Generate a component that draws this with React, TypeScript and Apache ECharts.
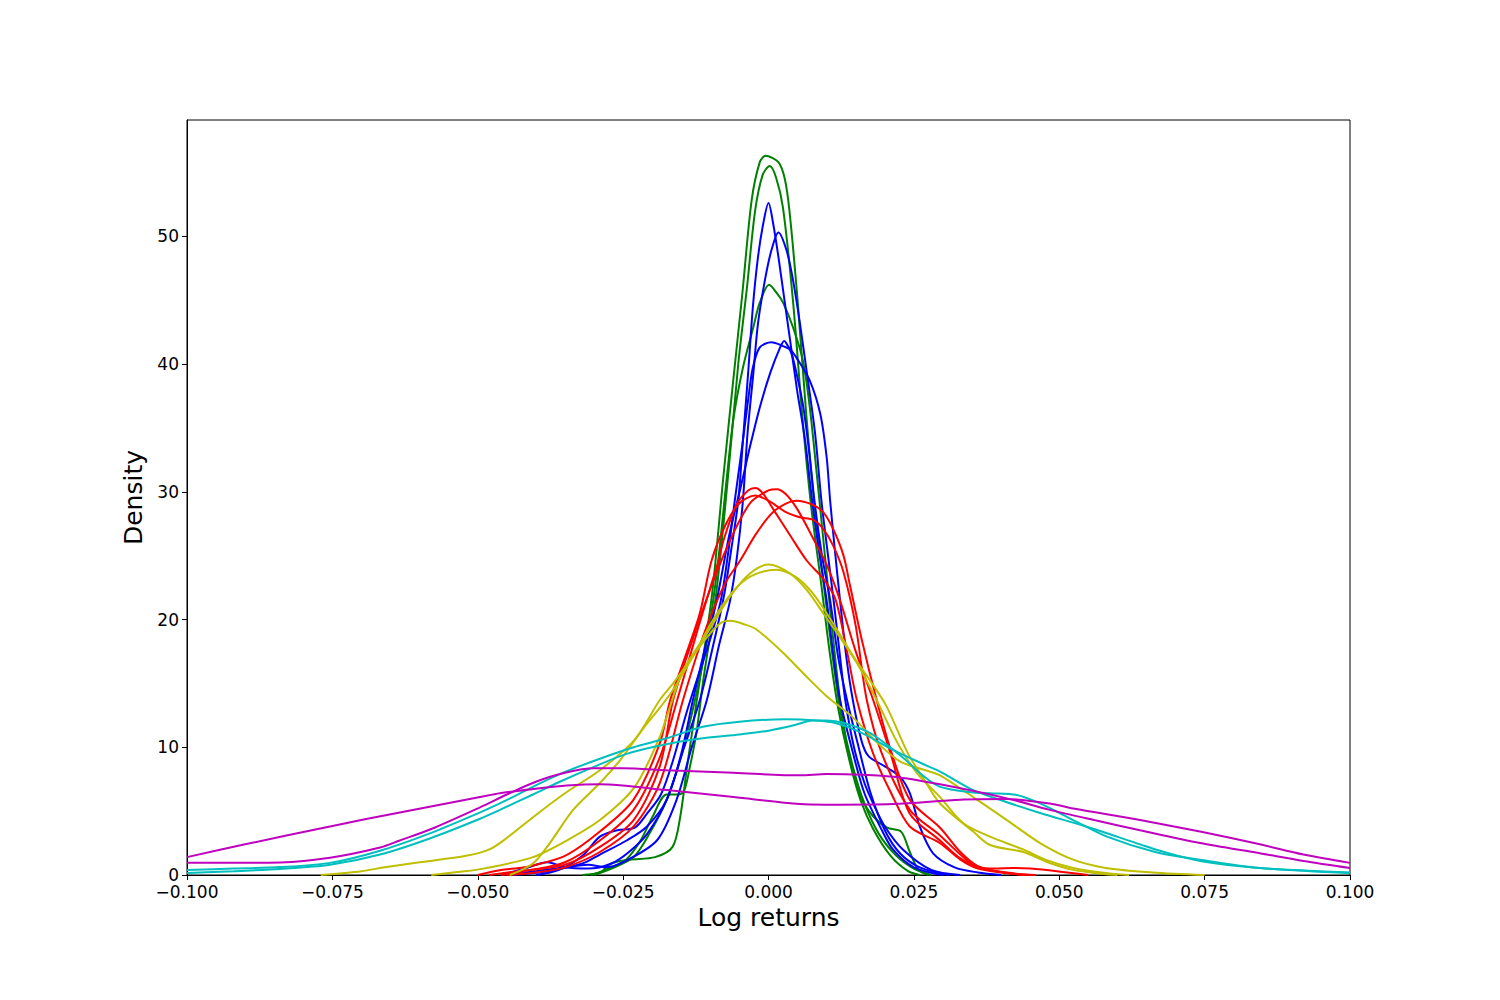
import React, { useEffect, useRef } from 'react';
import * as echarts from 'echarts';

type P = [number, number];

const xTicks = [-0.1, -0.075, -0.05, -0.025, 0, 0.025, 0.05, 0.075, 0.1];
const yTicks = [0, 10, 20, 30, 40, 50];

const greenA: P[] = [[-0.032,0],[-0.029,0.2],[-0.027,0.9],[-0.024,1.2],[-0.0195,1.4],[-0.0165,2.2],[-0.0152,4.5],[-0.014,8.5],[-0.013,11.6],[-0.0118,15.3],[-0.0097,22],[-0.0078,31],[-0.006,39],[-0.0045,45.5],[-0.0029,52.8],[-0.0015,55.8],[-0.0005,56.3],[0.0017,55.8],[0.0028,54.5],[0.0036,52],[0.005,45],[0.0065,36],[0.008,28.5],[0.0097,22],[0.0112,16.5],[0.0125,12.5],[0.0145,8.5],[0.0165,5.6],[0.019,3.2],[0.022,1.5],[0.025,0.5],[0.028,0]];
const greenB: P[] = [[-0.0305,0],[-0.0275,0.5],[-0.0245,1.2],[-0.022,2.7],[-0.02,4.5],[-0.0175,6.3],[-0.0155,6.3],[-0.0145,6.6],[-0.0135,8.5],[-0.0124,11.1],[-0.0112,15.3],[-0.009,22],[-0.007,31],[-0.0052,40],[-0.0037,46],[-0.0023,52],[-0.001,54.8],[0.0002,55.5],[0.0013,54.6],[0.0025,52.2],[0.0042,45],[0.0058,36],[0.0073,29],[0.009,23],[0.0105,17.5],[0.012,13],[0.014,8.8],[0.0158,5.9],[0.018,3.6],[0.021,1.5],[0.024,0.3],[0.026,0]];
const greenC: P[] = [[-0.03,0],[-0.027,0.5],[-0.0232,1.4],[-0.0204,3.3],[-0.0175,5.9],[-0.0147,9.8],[-0.0125,14],[-0.0105,18.5],[-0.0088,24],[-0.0071,31.4],[-0.006,35.8],[-0.0044,39.7],[-0.0026,42.9],[-0.0015,44.8],[0.0001,46.2],[0.0015,45.5],[0.0025,44.8],[0.0042,42.9],[0.0059,40.3],[0.0071,36.6],[0.0083,31.4],[0.0097,25],[0.011,19],[0.0125,13],[0.0142,8.6],[0.016,6.0],[0.018,4.6],[0.0204,3.7],[0.0228,3.4],[0.0243,1.8],[0.0258,0.4],[0.0275,0]];

const blueA: P[] = [[-0.046,0],[-0.042,0.5],[-0.038,1.0],[-0.035,0.6],[-0.031,0.5],[-0.027,0.9],[-0.024,1.8],[-0.0209,3.2],[-0.0175,5.9],[-0.0145,10],[-0.0118,13.7],[-0.0095,18],[-0.0076,22],[-0.0064,25.5],[-0.0052,29.3],[-0.0044,34],[-0.0035,39.3],[-0.0027,44.4],[-0.0018,48.4],[-0.0009,51],[0,52.6],[0.0008,51],[0.0017,48.4],[0.0025,45.8],[0.0037,41.9],[0.0049,38],[0.0063,34],[0.0075,29.3],[0.0088,25],[0.01,21.5],[0.0112,17],[0.0123,13.7],[0.0145,9.6],[0.0165,6.4],[0.0195,3.5],[0.0214,2],[0.025,0.6],[0.03,0]];
const blueB: P[] = [[-0.045,0],[-0.04,0.3],[-0.035,0.6],[-0.031,0.8],[-0.028,0.6],[-0.025,1.0],[-0.0192,2.7],[-0.0158,5.9],[-0.0132,10],[-0.0106,13.7],[-0.0085,18],[-0.0066,21.5],[-0.0054,25],[-0.0044,29.3],[-0.0036,34.6],[-0.0026,39.3],[-0.0018,43.2],[-0.0006,46.6],[0.0005,48.9],[0.0017,50.3],[0.0031,48.9],[0.0042,46.6],[0.0054,43.2],[0.0066,39.3],[0.008,34.6],[0.0091,29.3],[0.0101,25.5],[0.0112,21.5],[0.0122,17.5],[0.0132,13.7],[0.0147,10],[0.0165,7.2],[0.0182,5.4],[0.02,3.8],[0.0231,2],[0.028,0.4],[0.033,0]];
const blueC: P[] = [[-0.04,0],[-0.036,0.4],[-0.032,1.5],[-0.029,3.0],[-0.026,3.5],[-0.023,3.7],[-0.0209,4.8],[-0.0185,6.3],[-0.0164,9],[-0.0141,12.7],[-0.0123,15.3],[-0.01,18.5],[-0.0082,21.5],[-0.007,25],[-0.0058,29.3],[-0.0044,34],[-0.0035,37.2],[-0.0027,39.7],[-0.0015,41.3],[0.0005,41.7],[0.0025,41.4],[0.0037,41.1],[0.0048,39.3],[0.006,36.6],[0.0071,32.7],[0.0079,29.3],[0.0092,25],[0.0106,21.5],[0.012,17],[0.0135,13.7],[0.0155,10],[0.0175,6.5],[0.02,3.5],[0.0226,1.7],[0.026,0.6],[0.031,0]];
const blueD: P[] = [[-0.044,0],[-0.038,0.3],[-0.032,0.9],[-0.029,1.6],[-0.0244,2.7],[-0.0209,3.8],[-0.0175,5.9],[-0.015,9.5],[-0.013,13.7],[-0.0108,18],[-0.0089,21.5],[-0.0068,26.5],[-0.0046,30.7],[-0.0032,33.5],[-0.0015,36.6],[0.0003,39.3],[0.002,41.3],[0.0027,41.8],[0.0035,41.3],[0.0048,40.5],[0.0071,38.7],[0.0089,36.1],[0.01,32.7],[0.0106,29.3],[0.0114,25.5],[0.0123,21.5],[0.0134,17],[0.0145,13.7],[0.016,10.5],[0.0172,9.3],[0.02,8.5],[0.0226,7.7],[0.0243,6.4],[0.026,3.8],[0.0283,1.7],[0.032,0.6],[0.036,0.2],[0.04,0]];

const redA: P[] = [[-0.046,0],[-0.042,0.3],[-0.035,1.0],[-0.029,2.7],[-0.0232,5.1],[-0.0187,9.2],[-0.0157,13.7],[-0.012,19.5],[-0.01,22.5],[-0.0086,24.6],[-0.0078,26.1],[-0.0055,29],[-0.0035,30.1],[-0.0023,30.3],[-0.001,29.9],[0.001,28.5],[0.0037,26.6],[0.0066,24.6],[0.0094,23.2],[0.0115,21.6],[0.0135,17.5],[0.0152,13.7],[0.018,9.5],[0.021,6.5],[0.0243,3.8],[0.0295,2.5],[0.033,1.2],[0.036,0.5],[0.04,0.2],[0.044,0]];
const redB: P[] = [[-0.05,0],[-0.046,0.4],[-0.042,0.6],[-0.035,1.5],[-0.029,3.4],[-0.0232,5.9],[-0.0187,10.3],[-0.0169,13.7],[-0.014,17.5],[-0.0118,20.5],[-0.0098,24.6],[-0.0075,27.3],[-0.005,29.1],[-0.0023,29.7],[0,29.3],[0.003,28.4],[0.0054,28],[0.0077,27.8],[0.0094,27.1],[0.0111,25.8],[0.0129,23.7],[0.015,19.5],[0.0169,13.7],[0.0195,9.5],[0.0243,5.1],[0.0295,3.1],[0.033,1.6],[0.036,0.6],[0.039,0.5],[0.042,0.55],[0.045,0.5],[0.0496,0.3],[0.055,0]];
const redC: P[] = [[-0.048,0],[-0.043,0.3],[-0.035,0.8],[-0.029,2.2],[-0.0232,4.3],[-0.0187,8.5],[-0.0164,13.7],[-0.013,18.5],[-0.0095,23],[-0.006,26.8],[-0.003,29.2],[0,30.1],[0.0014,30.2],[0.003,29.8],[0.005,28.6],[0.0075,26.5],[0.01,24.3],[0.0123,21.5],[0.015,17.5],[0.018,13.7],[0.021,9.5],[0.0243,4.8],[0.0295,2.7],[0.033,1.3],[0.037,0.5],[0.042,0.1],[0.046,0]];
const redD: P[] = [[-0.045,0],[-0.04,0.2],[-0.035,0.6],[-0.029,1.8],[-0.0232,3.8],[-0.0187,7.2],[-0.0147,13.7],[-0.011,19],[-0.0075,22.8],[-0.0049,24.6],[-0.002,26.8],[0.001,28.5],[0.0048,29.3],[0.0075,29],[0.0094,28.4],[0.0111,27.1],[0.0129,25],[0.014,22.7],[0.016,18.5],[0.0186,13.7],[0.021,9.8],[0.0243,5.9],[0.0295,3.7],[0.033,1.8],[0.036,0.7],[0.04,0.25],[0.045,0]];

const yellowA: P[] = [[-0.058,0],[-0.053,0.25],[-0.049,0.5],[-0.0405,1.4],[-0.0347,2.7],[-0.029,4.3],[-0.023,6.9],[-0.0187,10.8],[-0.0175,12.4],[-0.0147,16],[-0.0106,18.9],[-0.0066,21.8],[-0.0032,23.6],[0,24.3],[0.0037,23.6],[0.0066,22.3],[0.0094,20.5],[0.0123,18.6],[0.0152,16.6],[0.0186,13.7],[0.022,10.5],[0.0255,8.0],[0.0295,6.1],[0.0335,4.05],[0.0381,3.0],[0.0438,2.0],[0.0476,1.2],[0.0524,0.55],[0.058,0.15],[0.062,0]];
const yellowB: P[] = [[-0.0445,0],[-0.0405,0.9],[-0.0376,2.5],[-0.0336,5.1],[-0.029,7.2],[-0.0255,9],[-0.0215,11.5],[-0.0185,13.2],[-0.0164,14.5],[-0.013,17.1],[-0.0095,20],[-0.0061,22.2],[-0.003,23.4],[0.0014,23.9],[0.0048,23.3],[0.0077,22],[0.0111,19.7],[0.0146,17.1],[0.0175,15.2],[0.0203,13.2],[0.024,9.5],[0.027,7.3],[0.0295,5.6],[0.0352,3.4],[0.0381,2.35],[0.0438,1.8],[0.048,1.0],[0.0524,0.4],[0.058,0.05],[0.06,0]];
const yellowC: P[] = [[-0.077,0],[-0.07,0.3],[-0.066,0.6],[-0.06,1.0],[-0.052,1.5],[-0.048,2.0],[-0.045,2.9],[-0.04,4.7],[-0.035,6.4],[-0.029,8.2],[-0.023,10.6],[-0.0187,13.7],[-0.0164,15],[-0.0135,16.8],[-0.0106,18.6],[-0.0083,19.7],[-0.0066,19.9],[-0.004,19.6],[-0.002,19.2],[0.0025,17.4],[0.0066,15.5],[0.01,14.0],[0.0146,12.3],[0.0186,10.4],[0.0226,8.9],[0.027,8.2],[0.0295,7.8],[0.0352,6.1],[0.041,4.3],[0.0467,2.5],[0.0524,1.2],[0.058,0.55],[0.066,0.2],[0.075,0]];

const cyanA: P[] = [[-0.1,0.4],[-0.092,0.5],[-0.084,0.62],[-0.0754,0.95],[-0.0668,1.9],[-0.058,3.3],[-0.0496,4.9],[-0.0462,5.6],[-0.0405,6.9],[-0.0359,7.9],[-0.029,9.1],[-0.0232,10.0],[-0.0175,10.7],[-0.0113,11.6],[-0.005,12.0],[0.003,12.2],[0.0082,12.1],[0.0115,11.9],[0.0157,11.2],[0.0214,9.8],[0.027,8.6],[0.0295,8.1],[0.0352,6.65],[0.041,5.7],[0.0467,4.85],[0.0553,3.7],[0.0639,2.4],[0.0673,1.9],[0.0742,1.1],[0.0845,0.55],[0.1,0.2]];
const cyanB: P[] = [[-0.1,0.15],[-0.092,0.3],[-0.084,0.47],[-0.0754,0.8],[-0.0668,1.6],[-0.058,2.9],[-0.0496,4.4],[-0.0462,5.1],[-0.0405,6.3],[-0.0359,7.3],[-0.0293,8.6],[-0.0243,9.5],[-0.018,10.2],[-0.0113,10.7],[-0.005,11.0],[0,11.3],[0.0042,11.7],[0.0076,12.1],[0.01,12.1],[0.013,11.9],[0.0175,11.1],[0.0231,9.2],[0.0265,7.8],[0.0295,6.9],[0.0352,6.45],[0.0381,6.4],[0.0427,6.26],[0.0467,5.6],[0.0524,4.3],[0.0582,3.0],[0.0665,1.8],[0.0742,1.2],[0.0845,0.55],[0.1,0.15]];

const magentaA: P[] = [[-0.1,0.96],[-0.092,0.95],[-0.084,0.98],[-0.0754,1.35],[-0.0668,2.15],[-0.0634,2.7],[-0.058,3.6],[-0.0496,5.3],[-0.045,6.3],[-0.04,7.3],[-0.035,8.0],[-0.03,8.35],[-0.025,8.35],[-0.0175,8.2],[-0.006,8.0],[0.0054,7.8],[0.01,7.9],[0.0214,7.7],[0.0295,7.1],[0.041,6.0],[0.0484,5.1],[0.056,4.3],[0.0639,3.5],[0.0742,2.5],[0.0845,1.7],[0.092,1.1],[0.1,0.55]];
const magentaB: P[] = [[-0.1,1.4],[-0.09,2.4],[-0.0754,3.8],[-0.0634,4.9],[-0.0496,6.1],[-0.0462,6.4],[-0.04,6.75],[-0.0347,7.0],[-0.029,7.1],[-0.0175,6.65],[-0.006,6.1],[0.0054,5.55],[0.01,5.5],[0.0214,5.55],[0.033,5.9],[0.041,5.95],[0.0484,5.6],[0.0524,5.2],[0.0639,4.3],[0.0742,3.4],[0.0845,2.4],[0.092,1.6],[0.1,0.95]];

const curves: { data: P[]; color: string }[] = [
  { data: greenA, color: '#008000' },
  { data: greenB, color: '#008000' },
  { data: greenC, color: '#008000' },
  { data: blueA, color: '#0000ff' },
  { data: blueB, color: '#0000ff' },
  { data: blueC, color: '#0000ff' },
  { data: blueD, color: '#0000ff' },
  { data: redA, color: '#ff0000' },
  { data: redB, color: '#ff0000' },
  { data: redC, color: '#ff0000' },
  { data: redD, color: '#ff0000' },
  { data: yellowA, color: '#bfbf00' },
  { data: yellowB, color: '#bfbf00' },
  { data: yellowC, color: '#bfbf00' },
  { data: cyanA, color: '#00bfbf' },
  { data: cyanB, color: '#00bfbf' },
  { data: magentaA, color: '#bf00bf' },
  { data: magentaB, color: '#bf00bf' },
];

const fmtX = (v: number) => {
  const s = Math.abs(v).toFixed(3);
  return v < -1e-9 ? '\u2212' + s : s;
};

export default function App() {
  const ref = useRef<HTMLDivElement>(null);
  useEffect(() => {
    if (!ref.current) return;
    const chart = echarts.init(ref.current, null, { renderer: 'svg' });
    const font = 'DejaVu Sans';
    chart.setOption({
      animation: false,
      backgroundColor: '#ffffff',
      grid: {
        left: 187, right: 150, top: 120, bottom: 125,
        show: true, borderColor: '#000', borderWidth: 1, backgroundColor: 'transparent',
      },
      xAxis: {
        type: 'value', min: -0.1, max: 0.1, interval: 0.025,
        name: 'Log returns', nameLocation: 'middle', nameGap: 29,
        nameTextStyle: { fontSize: 25, color: '#000', fontFamily: font },
        axisLine: { show: true, onZero: false, lineStyle: { color: '#000', width: 1 } },
        axisTick: { show: true, inside: false, length: 5, lineStyle: { color: '#000' }, customValues: xTicks },
        axisLabel: { fontSize: 17, lineHeight: 14, color: '#000', fontFamily: font, margin: 10, formatter: fmtX, customValues: xTicks },
        splitLine: { show: false },
      },
      yAxis: {
        type: 'value', min: 0, max: 59.1, interval: 10,
        name: 'Density', nameLocation: 'middle', nameGap: 38,
        nameTextStyle: { fontSize: 25, color: '#000', fontFamily: font },
        axisLine: { show: true, onZero: false, lineStyle: { color: '#000', width: 1 } },
        axisTick: { show: true, inside: false, length: 5, lineStyle: { color: '#000' }, customValues: yTicks },
        axisLabel: { fontSize: 17, lineHeight: 12, color: '#000', fontFamily: font, margin: 8, customValues: yTicks },
        splitLine: { show: false },
      },
      series: curves.map((c, i) => ({
        type: 'line',
        name: 'kde' + i,
        data: c.data,
        showSymbol: false,
        symbol: 'none',
        smooth: 0.3,
        clip: true,
        lineStyle: { color: c.color, width: 2 },
        itemStyle: { color: c.color },
        emphasis: { disabled: true },
        z: 2,
      })),
    });
    return () => chart.dispose();
  }, []);
  return (
    <div
      ref={ref}
      style={{ position: 'fixed', left: 0, top: 0, width: 1500, height: 1000, background: '#fff' }}
    />
  );
}
